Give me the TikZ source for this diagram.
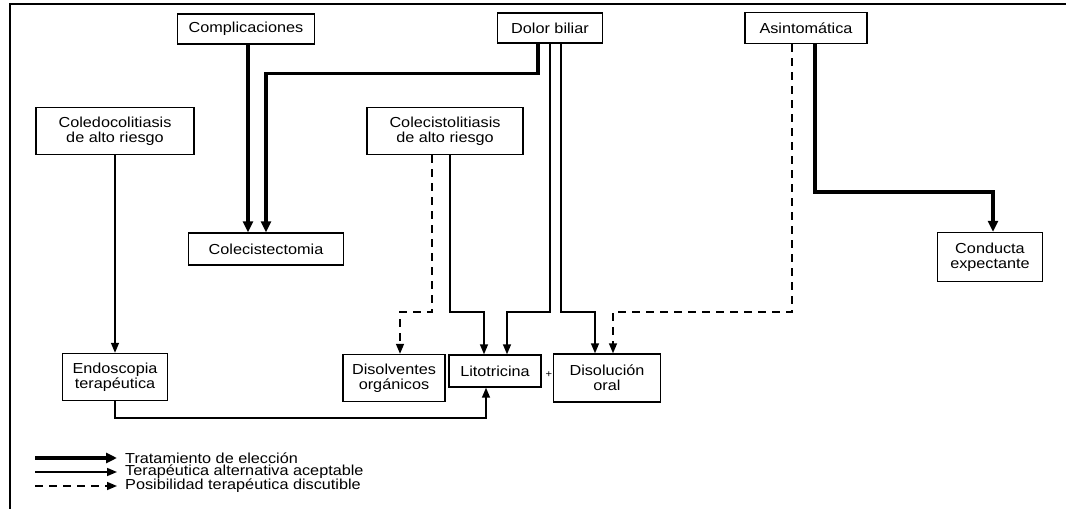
\documentclass[tikz,border=0pt]{standalone}
\usepackage{fontspec}
\setmainfont{Liberation Sans}[FakeStretch=1.12]
\usetikzlibrary{
  arrows.meta,
  positioning,
}
\tikzstyle{caja} = [
rectangle,
draw,
line width=1.4pt,
inner sep=0pt,
align=center
]
\tikzstyle{eleccion} = [draw, line width=3.4pt, -{Triangle[length=11pt,width=10pt]}]
\tikzstyle{alternativa} = [draw, line width=1.5pt, -{Triangle[length=10pt,width=8pt]}]
\tikzstyle{discutible} = [draw, line width=1.5pt, dash pattern=on 8pt off 6pt, -{Triangle[length=10pt,width=8pt]}]
\tikzset{every picture/.style={font issue=\fontsize{14.5}{15}},
         font issue/.style={execute at begin picture={#1\selectfont}}
         }

\begin{document}
\begin{tikzpicture}[x=1pt, y=1pt]
  \useasboundingbox (0,0) rectangle (1066,509);
  % Frame
  \draw[line width=2pt] (1066,505) -- (10,505) -- (10,0);

  % Place nodes
  \node [caja, minimum width=137, minimum height=30] (compl) at (246,480) {Complicaciones};
  \node [caja, minimum width=105, minimum height=30] (dolor) at (550,481) {Dolor biliar};
  \node [caja, minimum width=122, minimum height=31] (asint) at (806,481) {Asintomática};

  \node [caja, minimum width=158, minimum height=47] (coledo) at (115,378) {Coledocolitiasis\\de alto riesgo};
  \node [caja, minimum width=156, minimum height=47] (colecisto) at (445,378) {Colecistolitiasis\\de alto riesgo};

  \node [caja, minimum width=155, minimum height=32] (colect) at (266,260) {Colecistectomia};
  \node [caja, minimum width=105, minimum height=49] (conducta) at (990,252) {Conducta\\expectante};

  \node [caja, minimum width=105, minimum height=47] (endosc) at (115,132) {Endoscopia\\terapéutica};
  \node [caja, minimum width=102, minimum height=47] (disolv) at (394,131) {Disolventes\\orgánicos};
  \node [caja, minimum width=92, minimum height=32] (lito) at (495,138) {Litotricina};
  \node [inner sep=0pt, font=\fontsize{10}{10}\selectfont] (mas) at (549,134) {+};
  \node [caja, minimum width=107, minimum height=48] (disol) at (607,131) {Disolución\\oral};

  \coordinate (reparto) at (0,197);
  \coordinate (espera) at (0,317);

  % Draw edges
  \path [eleccion] ([xshift=2]compl.south) -- ([xshift=-18]colect.north);
  \path [eleccion] ([xshift=-12]dolor.south) -- ++(0,-30) -| (colect.north);
  \path [eleccion] ([xshift=9]asint.south) -- ([xshift=9]asint.south |- espera) -| ([xshift=3]conducta.north);

  \path [alternativa] (dolor.south) -- (dolor.south |- reparto) -| ([xshift=12]lito.north);
  \path [alternativa] ([xshift=11]dolor.south) -- ([xshift=11]dolor.south |- reparto) -| ([xshift=-12]disol.north);
  \path [alternativa] ([xshift=5]colecisto.south) -- ([xshift=5]colecisto.south |- reparto) -| ([xshift=-11]lito.north);
  \path [alternativa] (coledo.south) -- (endosc.north);
  \path [alternativa] (endosc.south) -- ++(0,-17) -| ([xshift=-9]lito.south);

  \path [discutible] ([xshift=-13]colecisto.south) -- ([xshift=-13]colecisto.south |- reparto) -| ([xshift=6]disolv.north);
  \path [discutible] ([xshift=-14]asint.south) -- ([xshift=-14]asint.south |- reparto) -| ([xshift=6]disol.north);

  % Legend
  \node [anchor=west, inner sep=0pt] (ley1) at (125,51) {Tratamiento de elección};
  \node [anchor=west, inner sep=0pt] (ley2) at (125,37) {Terapéutica alternativa aceptable};
  \node [anchor=west, inner sep=0pt] (ley3) at (125,23) {Posibilidad terapéutica discutible};
  \path [eleccion] ([xshift=-90]ley1.west) -- ([xshift=-8]ley1.west);
  \path [alternativa] ([xshift=-90]ley2.west) -- ([xshift=-8]ley2.west);
  \path [discutible] ([xshift=-90]ley3.west) -- ([xshift=-8]ley3.west);
\end{tikzpicture}
\end{document}
